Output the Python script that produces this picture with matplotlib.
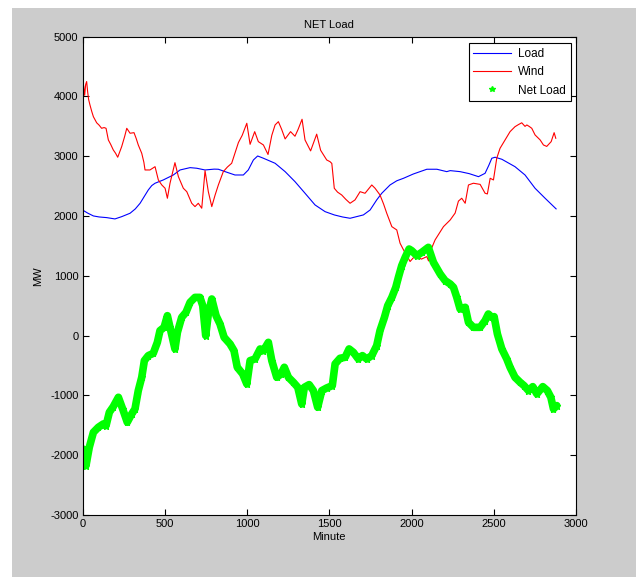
import numpy as np
import matplotlib
matplotlib.use("Agg")
import matplotlib.pyplot as plt
from matplotlib.lines import Line2D
from matplotlib.patches import Rectangle

plt.rcParams['font.family'] = ['Liberation Sans', 'DejaVu Sans']
plt.rcParams['axes.unicode_minus'] = False

# Load (MW) vs minute
load_min = [0, 30, 65, 100, 146, 196, 237, 288, 320, 349, 375, 399, 420, 440, 490,
            551, 592, 653, 693, 744, 800, 825, 866, 926, 977, 1007, 1038, 1064, 1099,
            1170, 1231, 1291, 1352, 1413, 1474, 1530, 1580, 1626, 1707, 1748, 1788,
            1819, 1869, 1910, 1951, 2011, 2093, 2154, 2214, 2235, 2295, 2350, 2407,
            2447, 2470, 2488, 2508, 2549, 2629, 2690, 2751, 2812, 2879]
load_mw = [2100, 2050, 2002, 1985, 1974, 1952, 1990, 2047, 2120, 2214, 2330, 2437,
           2510, 2549, 2604, 2687, 2771, 2810, 2800, 2771, 2785, 2783, 2743, 2687,
           2687, 2771, 2938, 3005, 2967, 2883, 2743, 2576, 2382, 2186, 2074, 2019,
           1985, 1963, 2019, 2102, 2270, 2382, 2520, 2590, 2632, 2704, 2783, 2783,
           2743, 2760, 2743, 2710, 2659, 2715, 2850, 2967, 2984, 2950, 2826, 2687,
           2465, 2298, 2120]

# Wind (MW) vs minute
wind_min = [0, 6, 12, 18, 24, 30, 36, 44, 55, 65, 85, 100, 115, 130, 142, 156, 170,
            186, 200, 213, 237, 255, 268, 288, 312, 325, 338, 359, 372, 379, 409, 440,
            460, 481, 501, 515, 531, 561, 582, 612, 633, 663, 683, 703, 724, 744, 764,
            785, 805, 825, 855, 880, 906, 926, 947, 970, 998, 1018, 1046, 1068, 1099,
            1127, 1150, 1170, 1190, 1210, 1231, 1264, 1291, 1310, 1334, 1352, 1386,
            1423, 1447, 1470, 1484, 1504, 1515, 1530, 1550, 1575, 1600, 1626, 1656,
            1687, 1717, 1758, 1778, 1808, 1830, 1849, 1880, 1910, 1930, 1951, 1975,
            1991, 2010, 2032, 2060, 2093, 2103, 2120, 2143, 2170, 2194, 2235, 2265,
            2285, 2305, 2326, 2346, 2376, 2417, 2447, 2461, 2478, 2498, 2518, 2538,
            2569, 2599, 2629, 2650, 2670, 2690, 2701, 2715, 2731, 2751, 2782, 2802,
            2822, 2849, 2867, 2877]
wind_mw = [4000, 4180, 4020, 4200, 4250, 4080, 3950, 3860, 3750, 3662, 3560, 3520,
           3468, 3480, 3468, 3273, 3200, 3106, 3050, 2984, 3161, 3330, 3468, 3385,
           3395, 3300, 3189, 3050, 2900, 2771, 2771, 2826, 2604, 2520, 2465, 2298,
           2549, 2893, 2659, 2465, 2408, 2214, 2158, 2214, 2131, 2760, 2408, 2158,
           2350, 2520, 2743, 2820, 2883, 3050, 3230, 3350, 3552, 3200, 3412, 3245,
           3189, 3030, 3350, 3524, 3579, 3450, 3290, 3412, 3335, 3450, 3619, 3273,
           3090, 3370, 3100, 3000, 2938, 2910, 2880, 2465, 2400, 2353, 2280, 2214,
           2270, 2408, 2381, 2520, 2465, 2353, 2200, 2047, 1823, 1768, 1546, 1434,
           1320, 1240, 1300, 1322, 1280, 1322, 1250, 1450, 1601, 1720, 1823, 1935,
           2050, 2250, 2298, 2214, 2520, 2549, 2530, 2382, 2370, 2632, 2604, 2967,
           3133, 3273, 3412, 3495, 3530, 3560, 3500, 3524, 3500, 3468, 3357, 3273,
           3189, 3165, 3245, 3395, 3301]

# Net load (MW) vs minute
net_min = [0, 8, 20, 28, 40, 65, 95, 125, 142, 162, 186, 217, 243, 271, 298, 318,
           338, 359, 375, 399, 429, 454, 470, 495, 515, 531, 561, 576, 602, 628, 653,
           683, 713, 730, 748, 764, 785, 811, 835, 860, 896, 920, 940, 973, 998, 1018,
           1048, 1079, 1099, 1129, 1150, 1180, 1206, 1226, 1251, 1281, 1308, 1332,
           1348, 1377, 1403, 1429, 1454, 1484, 1518, 1535, 1565, 1596, 1620, 1646,
           1676, 1701, 1727, 1758, 1788, 1808, 1835, 1855, 1880, 1904, 1920, 1940,
           1961, 1985, 2001, 2032, 2062, 2102, 2133, 2174, 2204, 2235, 2255, 2275,
           2295, 2326, 2346, 2376, 2417, 2447, 2467, 2488, 2502, 2522, 2549, 2579,
           2599, 2629, 2660, 2684, 2711, 2737, 2762, 2798, 2826, 2847, 2863, 2883]
net_mw = [-1895, -2006, -2173, -2050, -1868, -1617, -1533, -1477, -1505, -1282,
          -1187, -1031, -1226, -1449, -1310, -1226, -920, -697, -418, -334, -296,
          -112, 84, 139, 334, 139, -222, 55, 306, 390, 557, 640, 640, 502, 0, 362,
          613, 334, 195, -28, -139, -251, -529, -641, -808, -418, -390, -223, -251,
          -112, -418, -697, -641, -529, -697, -780, -864, -1143, -864, -819, -920,
          -1198, -920, -875, -836, -473, -379, -362, -222, -279, -390, -334, -390,
          -334, -167, 84, 306, 502, 640, 808, 975, 1170, 1309, 1449, 1421, 1337,
          1393, 1477, 1226, 1031, 920, 864, 808, 640, 446, 474, 223, 139, 139, 251,
          362, 306, 318, 28, -223, -390, -529, -697, -780, -836, -920, -853, -975,
          -853, -920, -1031, -1226, -1170]

xticks = [0, 500, 1000, 1500, 2000, 2500, 3000]
yticks = [-3000, -2000, -1000, 0, 1000, 2000, 3000, 4000, 5000]

fig = plt.figure(figsize=(6.39, 5.77), dpi=100, facecolor='white')
fig.patches.append(Rectangle((12/639, 0), (636-12)/639, 1-8/577,
                             transform=fig.transFigure, facecolor='#cccccc',
                             edgecolor='none', zorder=-10))

ax = fig.add_axes([82.7/639, 1-515/577, (576-82.7)/639, (515-36.7)/577])
ax.set_facecolor('white')

ax.plot(load_min, load_mw, color='#0000ff', lw=0.8)
ax.plot(wind_min, wind_mw, color='#ff0000', lw=0.8)
ax.plot(net_min, net_mw, color='#00ff00', lw=5.5, solid_capstyle='round',
        solid_joinstyle='round', marker='*', markersize=5,
        markeredgecolor='#00ff00', markerfacecolor='#00ff00')

ax.set_xlim(0, 3000)
ax.set_ylim(-3000, 5000)
ax.set_xticks(xticks)
ax.set_yticks(yticks)
ax.tick_params(direction='in', top=True, right=True, length=4, width=0.8,
               labelsize=8, colors='black', pad=3)
for s in ax.spines.values():
    s.set_linewidth(0.8)
    s.set_color('black')

ax.set_title('NET Load', fontsize=8, pad=6)
ax.set_xlabel('Minute', fontsize=8, labelpad=2)
ax.set_ylabel('MW', fontsize=8, labelpad=5)

handles = [Line2D([], [], color='#0000ff', lw=0.8),
           Line2D([], [], color='#ff0000', lw=0.8),
           Line2D([], [], color='#00ff00', lw=0, marker='*', markersize=4)]
leg = ax.legend(handles, ['Load', 'Wind', 'Net Load'], loc='upper right',
                bbox_to_anchor=(0.989, 0.987), borderaxespad=0, fontsize=8.5,
                fancybox=False, framealpha=1, edgecolor='black',
                handlelength=3.2, handletextpad=0.6, labelspacing=0.55,
                borderpad=0.4)
leg.get_frame().set_linewidth(0.8)

fig.savefig('out.png', dpi=100, facecolor=fig.get_facecolor())
